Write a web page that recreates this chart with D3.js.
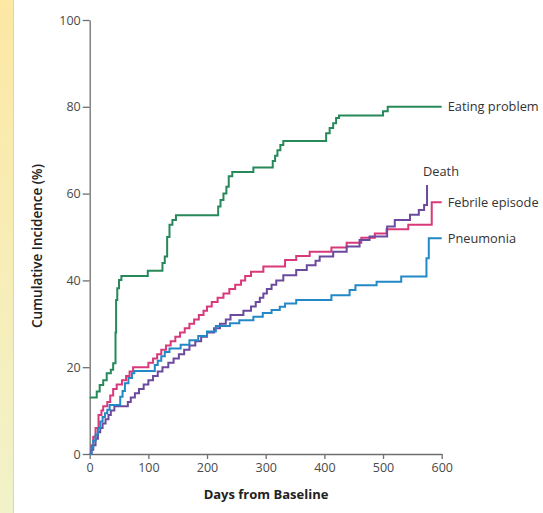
<!DOCTYPE html>
<html>
<head>
<meta charset="utf-8">
<script src="https://cdn.jsdelivr.net/npm/d3@7"></script>
<style>
  html, body { margin: 0; padding: 0; background: #fff; }
  svg { display: block; }
  text { font-family: "Open Sans", "Noto Sans", sans-serif; }
</style>
</head>
<body>
<svg id="chart" width="543" height="513"></svg>
<script>
// ---------- data ----------
const xTicks = [0, 100, 200, 300, 400, 500, 600];
const yTicks = [0, 20, 40, 60, 80, 100];

const eatingDays = [0,12,17,23,29,36,40,44,45,47,50,54,99,124,128,132,136,141,147,219,223,228,233,237,243,279,312,316,320,325,330,403,409,415,420,425,500,508,600];
const eatingVals = [13,14.4,15.9,17,18.6,19.4,20.9,28,35.5,38.2,40.1,41,42.2,44,45.5,50,52.8,53.9,55,57,58.5,60,61.6,64,65,66,67.5,68.7,70,71.2,72.1,73.9,75.1,76.2,77.4,78,79,80,80];

const febrileDays = [0,3,6,10,15,20,23,30,35,40,46,55,62,68,74,100,108,115,122,130,138,146,154,162,170,178,186,194,200,208,218,228,238,248,258,265,275,296,333,352,375,412,438,463,486,506,543,583,600];
const febrileVals = [0,2,4,6,9,10,11,12,13.5,15,16,17,18,19,20,21,22,23,24,25,26,27,28,29,30,31,32,33,34,35,36,37,38,39,40,41,42,43.2,44.7,45.6,46.6,47.6,48.7,49.8,50.8,51.8,52.8,58,58];

const deathDays = [0,3,6,10,14,18,22,27,32,36,42,65,70,77,84,92,100,108,116,124,134,143,152,161,170,180,190,200,212,222,232,240,262,275,283,290,296,302,310,318,330,352,370,385,392,415,438,460,477,507,520,546,561,570,575];
const deathVals = [0,1,2,3.5,5,6,7,8,9,10,11,12,13,14,15,16,17,18,19,20,21,22,23,24,25,26,27,28,29,30,31,32,33,34,35,36,37,38,39,40,41.2,42.4,43.5,44.5,45.5,46.6,47.8,49.3,50.1,52.4,53.9,55.1,56.2,57.4,62];

const pneumoniaDays = [0,3,6,10,14,18,22,26,30,34,52,56,60,66,72,76,111,116,122,128,136,155,170,185,200,215,239,255,279,295,310,324,333,352,412,443,453,489,531,574,578,600];
const pneumoniaVals = [0,1.5,3,4.5,6,7.5,8.5,9.4,10.2,11.3,13.2,14.5,16.3,17.5,18.6,19.1,20.5,21.5,22.5,23.5,24.3,25.2,26.2,27.2,28.2,29.5,30.1,30.8,31.6,32.5,33.2,33.9,34.7,35.5,36.6,37.8,38.9,39.7,40.9,45.1,49.7,49.7];

const seriesNames = ["Eating problem", "Febrile episode", "Death", "Pneumonia"];
const seriesColors = ["#27895a", "#d9397a", "#6b4a9e", "#2389c6"];
const seriesDays = [eatingDays, febrileDays, deathDays, pneumoniaDays];
const seriesVals = [eatingVals, febrileVals, deathVals, pneumoniaVals];

// ---------- drawing ----------
const svg = d3.select("#chart");

// yellow side strip
const defs = svg.append("defs");
const grad = defs.append("linearGradient").attr("id", "strip")
  .attr("x1", 0).attr("y1", 0).attr("x2", 0).attr("y2", 1);
grad.append("stop").attr("offset", "0%").attr("stop-color", "#fde8a4");
grad.append("stop").attr("offset", "100%").attr("stop-color", "#f1f2c9");
svg.append("rect").attr("x", 0).attr("y", 0).attr("width", 13).attr("height", 513)
  .attr("fill", "url(#strip)");
svg.append("line").attr("x1", 13.5).attr("x2", 13.5).attr("y1", 0).attr("y2", 513)
  .attr("stroke", "#ddd6a6").attr("stroke-width", 1);

const x = d3.scaleLinear().domain([0, 600]).range([89.7, 441.7]);
const y = d3.scaleLinear().domain([0, 100]).range([454, 20]);

const axisColor = "#6f6f6f";
const tickText = "#4a4a4a";

// y axis
const yAxis = svg.append("g").attr("transform", `translate(${x(0)},0)`)
  .call(d3.axisLeft(y).tickValues(yTicks).tickSize(7).tickPadding(2).tickSizeOuter(0));
yAxis.select(".domain").attr("stroke", axisColor).attr("stroke-width", 1.3);
yAxis.selectAll(".tick line").attr("stroke", axisColor).attr("stroke-width", 1.3);
yAxis.selectAll(".tick text").attr("fill", tickText).attr("font-size", 12.5)
  .style("font-family", "'Open Sans', sans-serif");

// x axis
const xAxis = svg.append("g").attr("transform", `translate(0,${y(0)})`)
  .call(d3.axisBottom(x).tickValues(xTicks).tickSize(5).tickPadding(4).tickSizeOuter(0));
xAxis.select(".domain").attr("stroke", axisColor).attr("stroke-width", 1.3);
xAxis.selectAll(".tick line").attr("stroke", axisColor).attr("stroke-width", 1.3);
xAxis.selectAll(".tick text").attr("fill", tickText).attr("font-size", 12.5)
  .style("font-family", "'Open Sans', sans-serif");

// axis titles
svg.append("text").attr("x", 266).attr("y", 499).attr("text-anchor", "middle")
  .attr("font-size", 13).attr("font-weight", 700).attr("fill", "#222")
  .text("Days from Baseline");
svg.append("text").attr("transform", `translate(42,${246}) rotate(-90)`)
  .attr("text-anchor", "middle").attr("font-size", 13.5).attr("font-weight", 600).attr("fill", "#222")
  .text("Cumulative Incidence (%)");

// lines
const line = d3.line().x(d => x(d[0])).y(d => y(d[1])).curve(d3.curveStepAfter);
seriesNames.forEach((name, i) => {
  const pts = seriesDays[i].map((d, j) => [d, seriesVals[i][j]]);
  svg.append("path").datum(pts)
    .attr("fill", "none").attr("stroke", seriesColors[i]).attr("stroke-width", 2)
    .attr("stroke-linejoin", "miter")
    .attr("d", line);
});

// end labels
const labelColor = "#333";
function lastPoint(i) {
  const d = seriesDays[i], v = seriesVals[i];
  return [d[d.length - 1], v[v.length - 1]];
}
[0, 1, 3].forEach(i => {
  const p = lastPoint(i);
  svg.append("text").attr("x", x(p[0]) + 6).attr("y", y(p[1]) + 4.5)
    .attr("font-size", 12.8).attr("fill", labelColor).text(seriesNames[i]);
});
{
  const p = lastPoint(2);
  svg.append("text").attr("x", x(p[0]) + 14).attr("y", y(p[1]) - 9)
    .attr("text-anchor", "middle").attr("font-size", 12.8).attr("fill", labelColor).text(seriesNames[2]);
}
</script>
</body>
</html>
